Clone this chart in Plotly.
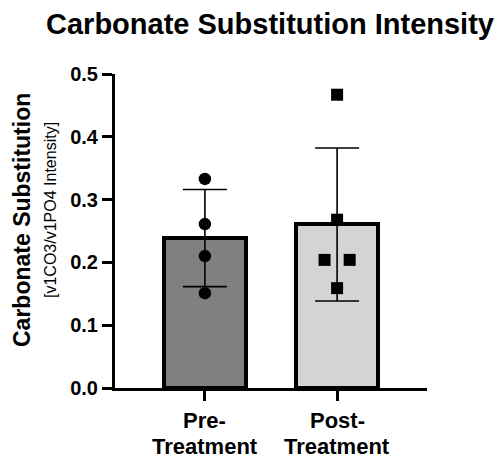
import numpy as np
import plotly.graph_objects as go

# Groups and individual measurements (v1CO3/v1PO4 intensity ratio)
groups = ["Pre-<br>Treatment", "Post-<br>Treatment"]
pre_values = [0.333, 0.261, 0.210, 0.151]
post_values = [0.467, 0.268, 0.204, 0.204, 0.159]
# horizontal scatter offsets so overlapping points stay visible
pre_offsets = [0.0, 0.0, 0.0, 0.0]
post_offsets = [0.0, 0.0, -0.095, 0.095, 0.0]

bar_colors = ["#808080", "#d4d4d4"]
font_family = "Arial, Liberation Sans, sans-serif"

samples = [pre_values, post_values]
means = [float(np.mean(v)) for v in samples]
sds = [float(np.std(v, ddof=1)) for v in samples]
xpos = list(range(len(groups)))

fig = go.Figure()

fig.add_trace(go.Bar(
    x=xpos, y=means, width=0.62,
    marker=dict(color=bar_colors, line=dict(color="black", width=4)),
    error_y=dict(type="data", array=sds, visible=True, color="black",
                 thickness=1.6, width=22),
    showlegend=False,
))

fig.add_trace(go.Scatter(
    x=[xpos[0] + o for o in pre_offsets], y=pre_values, mode="markers",
    marker=dict(symbol="circle", size=12.5, color="black"),
    showlegend=False,
))
fig.add_trace(go.Scatter(
    x=[xpos[1] + o for o in post_offsets], y=post_values, mode="markers",
    marker=dict(symbol="square", size=12, color="black"),
    showlegend=False,
))

# two-line category labels, set with tighter line spacing than tick labels allow
label_font = dict(size=22, family=font_family, weight="bold", color="black")
annotations = []
for xi, name in zip(xpos, groups):
    for k, part in enumerate(name.split("<br>")):
        annotations.append(dict(
            text=part, xref="x", yref="paper", x=xi,
            y=(388 - (420 + 26 * k)) / 314,
            xanchor="center", yanchor="middle", showarrow=False, font=label_font,
        ))

annotations += [
    dict(text="Carbonate Substitution", textangle=-90,
         xref="paper", yref="paper", x=(22 - 115) / 312, y=(388 - 220) / 314,
         xanchor="center", yanchor="middle", showarrow=False,
         font=dict(size=23, family=font_family, weight="bold", color="black")),
    dict(text="[v1CO3/v1PO4 Intensity]", textangle=-90,
         xref="paper", yref="paper", x=(50 - 115) / 312, y=(388 - 210) / 314,
         xanchor="center", yanchor="middle", showarrow=False,
         font=dict(size=16, family=font_family, color="black")),
]

fig.update_layout(
    width=503, height=462,
    margin=dict(l=115, r=76, t=74, b=74),
    plot_bgcolor="white", paper_bgcolor="white",
    font=dict(family=font_family, color="black"),
    bargap=0,
    title=dict(text="Carbonate Substitution Intensity",
               font=dict(size=29, family=font_family, weight="bold", color="black"),
               xref="container", x=270 / 503, xanchor="center",
               yref="container", y=1 - 24 / 462, yanchor="middle"),
    xaxis=dict(
        range=[-0.68, 1.68], tickmode="array", tickvals=xpos,
        showticklabels=False,
        showline=True, linecolor="black", linewidth=3,
        ticks="outside", ticklen=10, tickwidth=3, tickcolor="black",
        showgrid=False, zeroline=False,
    ),
    yaxis=dict(
        range=[0, 0.5], dtick=0.1, tickformat=".1f",
        showline=True, linecolor="black", linewidth=3,
        ticks="outside", ticklen=10, tickwidth=3, tickcolor="black",
        showgrid=False, zeroline=False,
        tickfont=dict(size=20, family=font_family, weight="bold", color="black"),
    ),
    annotations=annotations,
)

fig.write_html("out.html")
